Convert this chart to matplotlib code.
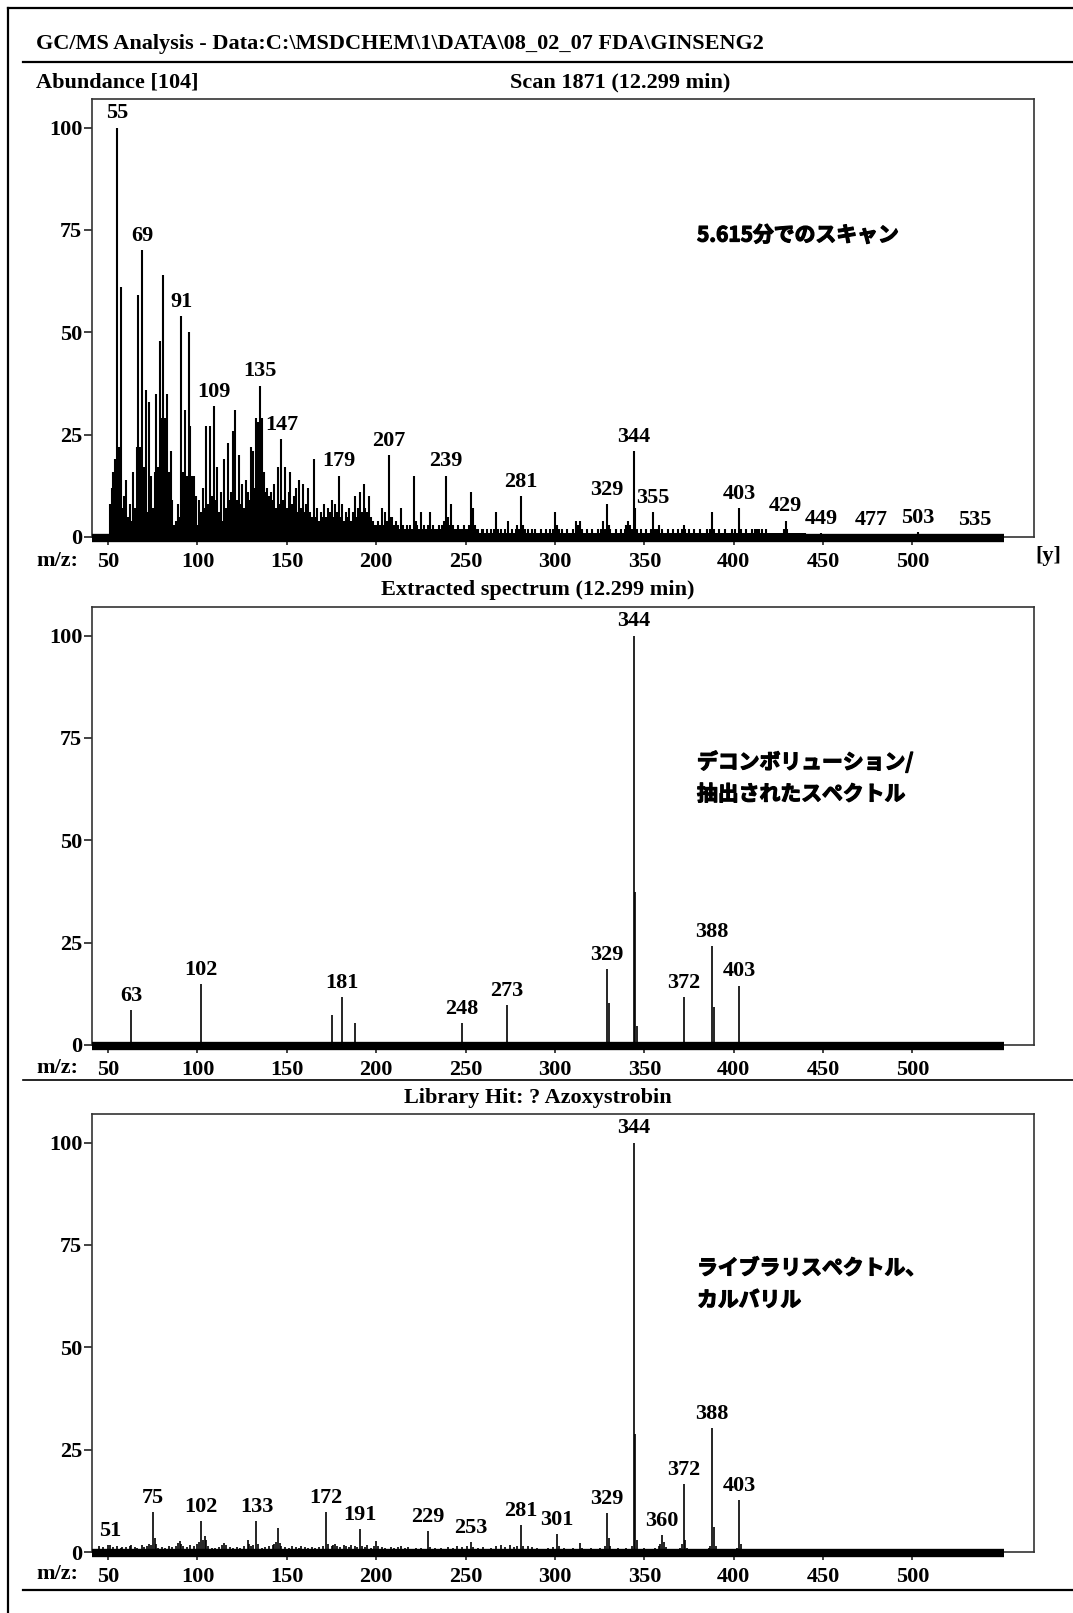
import matplotlib
matplotlib.use('Agg')
import matplotlib.pyplot as plt
import matplotlib.patheffects as pe
from matplotlib.lines import Line2D

W, H = 1073, 1613
SERIF = ['Liberation Serif', 'DejaVu Serif']
JP = ['Noto Sans CJK JP', 'DejaVu Sans']
plt.rcParams['font.family'] = SERIF
plt.rcParams['font.weight'] = 'bold'

# ---------------- data ----------------
XTICKS = [50, 100, 150, 200, 250, 300, 350, 400, 450, 500]
YTICKS = [0, 25, 50, 75, 100]
XLIM = (41, 568)
YLIM = (0, 107)
BASELINE = [41, 551]

# Scan 1871 (raw scan), m/z 51..440 followed by a few high-mass residues
scan_mz = list(range(51, 441)) + [449, 477, 503, 535]
scan_ab = [
    8, 12, 16, 19, 100, 22, 61, 7, 10, 14,
    5, 8, 4, 16, 7, 22, 59, 22, 70, 17,
    36, 6, 33, 15, 7, 16, 35, 17, 48, 29,
    64, 29, 35, 16, 21, 9, 3, 4, 8, 5,
    54, 16, 31, 15, 50, 27, 15, 15, 10, 3,
    9, 6, 12, 7, 27, 8, 27, 10, 32, 9,
    17, 6, 11, 4, 19, 7, 23, 9, 11, 26,
    31, 9, 20, 8, 13, 7, 14, 11, 9, 22,
    21, 12, 29, 28, 37, 29, 16, 11, 12, 10,
    11, 9, 13, 7, 17, 8, 24, 9, 17, 7,
    11, 16, 8, 10, 12, 6, 14, 7, 13, 6,
    8, 12, 6, 5, 19, 5, 7, 4, 6, 5,
    8, 5, 7, 6, 9, 5, 8, 6, 15, 5,
    8, 4, 6, 5, 7, 4, 6, 10, 5, 7,
    11, 6, 13, 7, 6, 10, 5, 4, 3, 3,
    4, 3, 7, 3, 6, 4, 20, 5, 5, 3,
    4, 3, 2, 7, 3, 2, 3, 2, 3, 2,
    15, 4, 3, 2, 6, 2, 3, 2, 3, 6,
    2, 3, 2, 2, 3, 2, 3, 4, 15, 5,
    3, 8, 3, 2, 2, 3, 2, 2, 3, 2,
    2, 3, 11, 7, 3, 2, 2, 1, 2, 2,
    1, 2, 1, 2, 1, 2, 6, 2, 1, 2,
    1, 2, 1, 4, 1, 2, 1, 2, 3, 2,
    10, 3, 2, 1, 2, 1, 2, 1, 2, 1,
    1, 2, 1, 1, 2, 1, 2, 1, 2, 6,
    3, 2, 1, 2, 1, 1, 2, 1, 1, 2,
    1, 4, 3, 4, 2, 1, 1, 2, 1, 1,
    2, 1, 1, 2, 1, 2, 4, 2, 8, 3,
    2, 1, 1, 2, 1, 1, 2, 1, 2, 3,
    4, 3, 2, 21, 7, 2, 1, 2, 1, 1,
    2, 1, 1, 2, 6, 2, 2, 3, 1, 2,
    1, 1, 2, 1, 1, 2, 1, 1, 2, 1,
    2, 3, 2, 1, 2, 1, 1, 2, 1, 1,
    2, 1, 1, 1, 2, 1, 2, 6, 2, 1,
    1, 2, 1, 1, 2, 1, 1, 1, 2, 1,
    2, 1, 7, 2, 1, 1, 2, 1, 1, 2,
    1, 2, 2, 2, 1, 2, 1, 2, 1, 1,
    1, 1, 1, 1, 1, 1, 1, 2, 4, 2,
    1, 1, 1, 1, 1, 1, 1, 1, 1, 1,
    1.0, 0.6, 1.3, 0.6,
]
scan_labels = [55, 69, 91, 109, 135, 147, 179, 207, 239, 281, 329, 344, 355,
               403, 429, 449, 477, 503, 535]

# Extracted (deconvoluted) spectrum
ext_mz = [63, 102, 175, 181, 188, 248, 273, 329, 330, 344, 345, 346, 372, 388, 389, 403]
ext_ab = [8.6, 14.9, 7.3, 11.7, 5.3, 5.3, 9.8, 18.6, 10.2, 100, 37.4, 4.7, 11.7, 24.1, 9.2, 14.5]
ext_labels = [63, 102, 181, 248, 273, 329, 344, 372, 388, 403]

# Library hit spectrum
lib_mz = [45, 47, 50, 51, 53, 55, 57, 58, 60, 62, 63, 65, 66, 69, 70, 72, 73, 74, 75, 76,
          77, 78, 80, 82, 84, 86, 88, 89, 90, 91, 92, 94, 96, 98, 100, 101, 102, 103, 104, 105,
          106, 108, 110, 112, 114, 115, 116, 118, 120, 122, 124, 126, 128, 129, 130, 131, 133, 134, 136, 138,
          140, 142, 143, 144, 145, 146, 147, 149, 151, 153, 155, 157, 158, 160, 162, 164, 166, 168, 170, 172,
          173, 175, 176, 177, 178, 180, 182, 183, 185, 186, 188, 189, 191, 192, 194, 195, 197, 199, 200, 201,
          203, 205, 208, 210, 212, 214, 216, 218, 222, 225, 229, 230, 233, 236, 240, 243, 245, 248, 251, 253,
          254, 257, 260, 264, 267, 270, 272, 275, 277, 279, 281, 282, 285, 287, 290, 296, 299, 301, 302, 305,
          310, 314, 315, 320, 325, 328, 329, 330, 331, 335, 340, 343, 344, 345, 346, 350, 356, 358, 359, 360,
          361, 362, 370, 371, 372, 373, 374, 386, 387, 388, 389, 390, 402, 403, 404]
lib_ab = [1.5, 1.2, 1.8, 1.6, 1.2, 1.5, 1.0, 1.3, 1.2, 1.5, 1.8, 1.2, 1.0, 1.6, 1.2, 1.5, 2.0, 1.8, 9.8, 3.5,
          2.0, 1.0, 1.2, 1.0, 1.5, 1.2, 1.5, 2.2, 2.8, 2.0, 1.5, 1.2, 1.8, 1.5, 2.0, 2.5, 7.6, 3.0, 4.0, 3.0,
          1.5, 1.0, 1.0, 1.2, 1.8, 2.2, 1.8, 1.2, 1.0, 1.2, 1.0, 1.5, 3.0, 2.0, 1.5, 1.8, 7.5, 2.0, 1.0, 1.2,
          1.5, 1.8, 2.0, 2.5, 5.8, 2.2, 1.5, 1.2, 1.0, 1.5, 1.2, 1.0, 1.5, 1.2, 1.0, 1.2, 1.0, 1.2, 1.5, 9.8,
          2.0, 1.5, 1.8, 2.0, 1.5, 1.2, 1.8, 1.5, 1.2, 1.8, 1.5, 1.2, 5.6, 1.5, 1.2, 1.8, 1.0, 1.5, 2.8, 1.5,
          1.2, 1.0, 1.2, 1.0, 1.2, 1.5, 1.0, 1.2, 1.0, 1.0, 5.2, 1.2, 1.0, 1.0, 1.2, 1.0, 1.5, 1.2, 1.5, 2.4,
          1.2, 1.0, 1.2, 1.0, 1.5, 1.8, 1.2, 1.8, 1.2, 1.5, 6.6, 1.5, 1.5, 1.2, 1.0, 1.0, 1.2, 4.4, 1.5, 1.0,
          1.0, 2.3, 1.0, 1.0, 1.0, 1.5, 9.6, 3.5, 1.5, 1.0, 1.0, 1.5, 100, 28.9, 3.0, 1.0, 1.0, 1.5, 2.0, 4.2,
          2.5, 1.2, 1.0, 2.0, 16.6, 3.0, 1.0, 1.0, 1.5, 30.3, 6.0, 1.5, 1.0, 12.7, 2.0]
lib_labels = [51, 75, 102, 133, 172, 191, 229, 253, 281, 301, 329, 344, 360, 372, 388, 403]

# ---------------- figure ----------------
FS = 16
fig = plt.figure(figsize=(W / 100, H / 100), dpi=100)


def rect(x0, y0, x1, y1):
    return [x0 / W, 1 - y1 / H, (x1 - x0) / W, (y1 - y0) / H]


def fx(x):
    return x / W


def fy(y):
    return 1 - y / H


def hline(y, x0, x1, lw=1.6):
    fig.add_artist(Line2D([fx(x0), fx(x1)], [fy(y), fy(y)], color='black', lw=lw))


def panel(box, mz, ab, labels, stem_lw):
    ax = fig.add_axes(rect(*box))
    ax.set_xlim(*XLIM)
    ax.set_ylim(*YLIM)
    ax.vlines(mz, 0, ab, color='black', lw=stem_lw)
    ax.plot(BASELINE, [-0.2, -0.2], color='black', lw=6, solid_capstyle='butt',
            clip_on=False, zorder=5)
    for s in ax.spines.values():
        s.set_linewidth(1.2)
        s.set_color('#333333')
    ax.set_xticks(XTICKS)
    ax.set_yticks(YTICKS)
    ax.tick_params(axis='both', direction='out', labelsize=FS, width=1.2, color='#222222')
    ax.tick_params(axis='x', length=6, pad=5)
    ax.tick_params(axis='y', length=6, pad=1)
    lookup = dict(zip(mz, ab))
    for m in labels:
        ax.annotate(str(m), xy=(m, lookup[m]), xytext=(0, 3), textcoords='offset points',
                    ha='center', va='bottom', fontsize=FS)
    return ax


# outer frame and rules
fig.add_artist(Line2D([fx(8), fx(1073)], [fy(8), fy(8)], color='black', lw=1.6))
fig.add_artist(Line2D([fx(8), fx(8)], [fy(8), fy(1613)], color='black', lw=1.6))
hline(62, 23, 1073)
hline(1080, 23, 1073, lw=1.2)
hline(1590, 23, 1073)

fig.text(fx(36), fy(44), r'GC/MS Analysis - Data:C:\MSDCHEM\1\DATA\08_02_07 FDA\GINSENG2',
         ha='left', va='center', fontsize=FS)
fig.text(fx(36), fy(82), 'Abundance [104]', ha='left', va='center', fontsize=FS)
fig.text(fx(620), fy(82), 'Scan 1871 (12.299 min)', ha='center', va='center', fontsize=FS)

ax1 = panel((92, 99, 1034, 537), scan_mz, scan_ab, scan_labels, 1.5)
fig.text(fx(36), fy(561), 'm/z:', ha='left', va='center', fontsize=FS)
fig.text(fx(1048), fy(556), '[y]', ha='center', va='center', fontsize=FS)

fig.text(fx(538), fy(590), 'Extracted spectrum (12.299 min)', ha='center', va='center', fontsize=FS)
ax2 = panel((92, 607, 1034, 1045), ext_mz, ext_ab, ext_labels, 1.2)
fig.text(fx(36), fy(1068), 'm/z:', ha='left', va='center', fontsize=FS)

fig.text(fx(538), fy(1098), 'Library Hit: ? Azoxystrobin', ha='center', va='center', fontsize=FS)
ax3 = panel((92, 1114, 1034, 1552), lib_mz, lib_ab, lib_labels, 1.2)
fig.text(fx(36), fy(1574), 'm/z:', ha='left', va='center', fontsize=FS)

# Japanese annotations
jp_kw = dict(ha='left', va='center', fontsize=15, family=JP, fontweight='bold',
             path_effects=[pe.withStroke(linewidth=0.9, foreground='black')])
fig.text(fx(697), fy(235), '5.615分でのスキャン', **jp_kw)
fig.text(fx(697), fy(762), 'デコンボリューション/', **jp_kw)
fig.text(fx(697), fy(794), '抽出されたスペクトル', **jp_kw)
fig.text(fx(697), fy(1268), 'ライブラリスペクトル、', **jp_kw)
fig.text(fx(697), fy(1300), 'カルバリル', **jp_kw)

fig.savefig('out.png', dpi=100, facecolor='white')
